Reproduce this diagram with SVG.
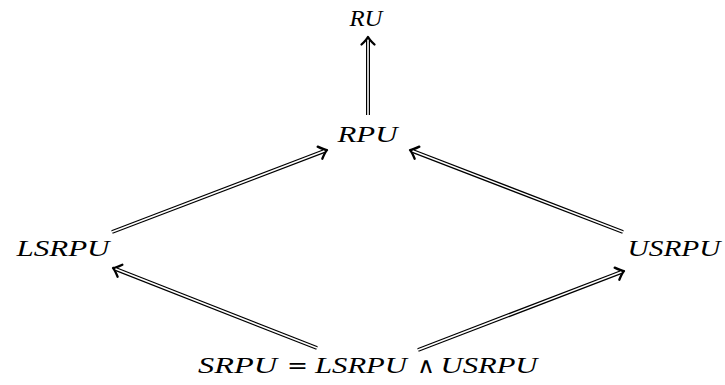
<svg xmlns="http://www.w3.org/2000/svg" width="725" height="385" viewBox="0 0 725 385">
<style>
text{font-family:'Liberation Serif','Times New Roman',serif;font-style:italic;font-size:24px;fill:#000;text-anchor:middle}
text.op{font-style:normal;font-family:'DejaVu Serif','Liberation Serif',serif;font-size:22px}
.o{stroke:#000;stroke-width:4;fill:none}
.i{stroke:#fff;stroke-width:1.6;fill:none}
</style>
<defs>
<marker id="ah" markerUnits="userSpaceOnUse" viewBox="-12 -10 16 20" refX="-3" refY="0" markerWidth="16" markerHeight="20" orient="auto" overflow="visible">
<path d="M-7.5 -6.5 Q-2.5 -1.2 0 0 Q-2.5 1.2 -7.5 6.5" fill="none" stroke="#000" stroke-width="2.3" stroke-linecap="round" stroke-linejoin="round"/>
</marker>
</defs>
<g id="connectors">
<g><line class="o" x1="368" y1="115" x2="368" y2="40" marker-end="url(#ah)"/><line class="i" x1="368" y1="115" x2="368" y2="40"/></g>
<g><line class="o" x1="112" y1="232" x2="324.2" y2="151.1" marker-end="url(#ah)"/><line class="i" x1="112" y1="232" x2="324.2" y2="151.1"/></g>
<g><line class="o" x1="623" y1="232" x2="412.8" y2="151.1" marker-end="url(#ah)"/><line class="i" x1="623" y1="232" x2="412.8" y2="151.1"/></g>
<g><line class="o" x1="317" y1="348" x2="115.8" y2="269.1" marker-end="url(#ah)"/><line class="i" x1="317" y1="348" x2="115.8" y2="269.1"/></g>
<g><line class="o" x1="418" y1="350" x2="621.2" y2="272.1" marker-end="url(#ah)"/><line class="i" x1="418" y1="350" x2="621.2" y2="272.1"/></g>
</g>
<g id="RU"><text x="366" y="26" textLength="33" lengthAdjust="spacingAndGlyphs">RU</text></g>
<g id="RPU"><text x="367.5" y="142" textLength="60" lengthAdjust="spacingAndGlyphs">RPU</text></g>
<g id="LSRPU"><text x="63" y="256" textLength="93" lengthAdjust="spacingAndGlyphs">LSRPU</text></g>
<g id="USRPU"><text x="674" y="256" textLength="93" lengthAdjust="spacingAndGlyphs">USRPU</text></g>
<g id="SRPU">
<text x="237.5" y="373" textLength="79" lengthAdjust="spacingAndGlyphs">SRPU</text>
<text class="op" x="297.5" y="373" textLength="21" lengthAdjust="spacingAndGlyphs">=</text>
<text x="361" y="373" textLength="92" lengthAdjust="spacingAndGlyphs">LSRPU</text>
<text class="op" x="426" y="373" textLength="18" lengthAdjust="spacingAndGlyphs">∧</text>
<text x="489" y="373" textLength="97" lengthAdjust="spacingAndGlyphs">USRPU</text>
</g>
</svg>
